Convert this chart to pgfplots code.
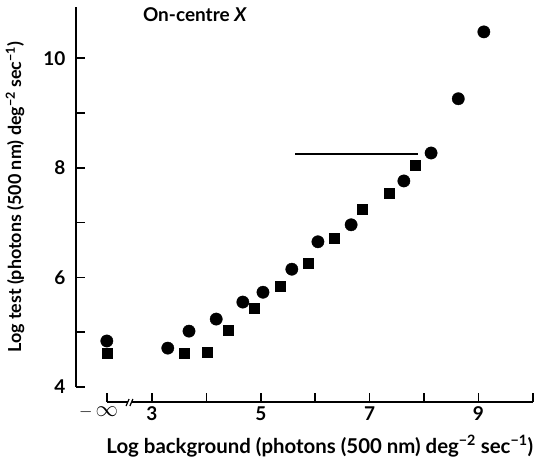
\documentclass[border=0pt]{standalone}
\usepackage{fontspec}
\setmainfont{Lato}
\usepackage{pgfplots}
\pgfplotsset{compat=1.18}
\begin{document}
\begin{tikzpicture}
\begin{axis}[
  x=54.4pt, y=54.8pt,
  xmin=2.17, xmax=10, ymin=4, ymax=10.93,
  clip=false,
  axis lines=left,
  axis line style={-, line width=1.6pt},
  axis x line shift=15pt,
  axis y line shift=31pt,
  tick align=inside,
  major tick length=9pt,
  tick style={line width=1.6pt, black},
  xtick={2.17,3,4,5,6,7,8,9,10},
  xticklabels={{\llap{$-$\,}\scalebox{1.3}{$\infty$}},3,,5,,7,,9,},
  ytick={4,5,6,7,8,9,10},
  yticklabels={4,,6,,8,,10},
  /pgf/number format/assume math mode=true,
  tick label style={font=\fontsize{19}{22}\selectfont\bfseries},
  xticklabel style={yshift=-1pt},
  yticklabel style={xshift=-7pt},
  xlabel style={font=\fontsize{20.4}{24}\selectfont\bfseries, yshift=-8pt},
  ylabel style={font=\fontsize{17.9}{21}\selectfont\bfseries, yshift=12pt},
  xlabel={Log background (photons (500 nm) deg\textsuperscript{−2} sec\textsuperscript{−1})},
  ylabel={Log test (photons (500 nm) deg\textsuperscript{−2} sec\textsuperscript{−1})},
]
\addplot[only marks, mark=*, mark size=6.2pt, mark options={fill=black, draw=black, line width=0.3pt}] coordinates {
(2.17,4.84) (3.29,4.71) (3.68,5.02) (4.18,5.24) (4.67,5.55) (5.04,5.73) (5.57,6.15)
(6.05,6.65) (6.66,6.96) (7.63,7.76) (8.13,8.27) (8.63,9.26) (9.10,10.48)};
\addplot[only marks, mark=square*, mark size=4.9pt, mark options={fill=black, draw=black, line width=0.3pt}] coordinates {
(2.17,4.62) (3.59,4.62) (4.01,4.64) (4.40,5.04) (4.88,5.44) (5.35,5.84) (5.87,6.26)
(6.35,6.72) (6.86,7.25) (7.36,7.54) (7.83,8.05)};
\addplot[black, line width=1.6pt, no marks] coordinates {(5.63,8.25) (7.89,8.25)};
\node[font=\fontsize{19}{22}\selectfont\bfseries] at (axis cs:3.79,10.79) {On-centre \textit{X}};
\draw[white, line width=3pt] (axis cs:2.55,3.726) -- (axis cs:2.64,3.726);
\draw[black, line width=1.2pt] ([xshift=-2pt,yshift=-4pt]axis cs:2.56,3.726) -- ++(3pt,7pt);
\draw[black, line width=1.2pt] ([xshift=-2pt,yshift=-4pt]axis cs:2.63,3.726) -- ++(3pt,7pt);
\path (axis cs:0.206,2.65) coordinate (bl) (axis cs:10.04,11.062) coordinate (tr);
\end{axis}
\pgfresetboundingbox
\path[use as bounding box] (bl) rectangle (tr);
\end{tikzpicture}
\end{document}
